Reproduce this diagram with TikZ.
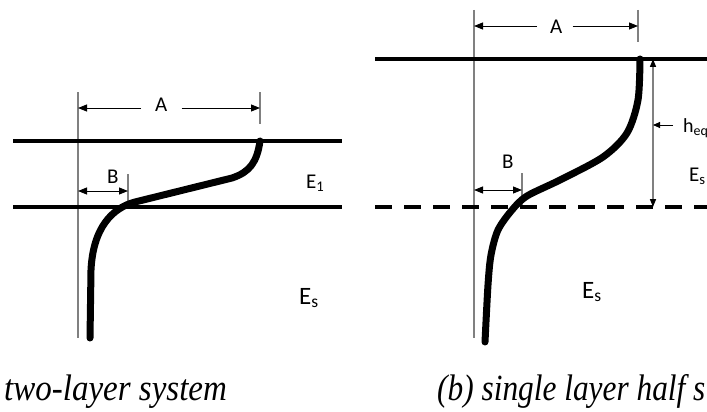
\documentclass[tikz,border=0pt]{standalone}
\usepackage{fontspec}
\setmainfont{Liberation Serif}
\newfontfamily\labelfont{Carlito}
\usetikzlibrary{arrows.meta}

\begin{document}
\begin{tikzpicture}[x=1pt,y=-1pt,>={Triangle[length=9pt,width=7pt]},
  layerline/.style={line width=3.5pt},
  guide/.style={line width=1.5pt,black!50},
  dim/.style={->,line width=0.9pt},
  profile/.style={line width=7pt,line cap=round,line join=round},
  lbl/.style={font=\labelfont\fontsize{21}{22}\selectfont,inner sep=0pt,anchor=base west},
  caption/.style={font=\itshape\fontsize{33}{36}\selectfont,inner sep=0pt,anchor=base west}]
\useasboundingbox (0,0) rectangle (707,412);
% (a) two-layer system
\coordinate (aG1) at (78,92);
\coordinate (aG2) at (78,338);
\coordinate (aT1) at (260,92);
\coordinate (aT2) at (260,124);
\coordinate (aL1) at (13,141);
\coordinate (aL2) at (342,141);
\coordinate (aM1) at (13,207);
\coordinate (aM2) at (342,207);
\coordinate (aB1) at (128,174);
\coordinate (aB2) at (128,207);
\draw[guide] (aG1) -- (aG2);
\draw[guide] (aT1) -- (aT2);
\draw[guide] (aB1) -- (aB2);
\draw[layerline] (aL1) -- (aL2);
\draw[layerline] (aM1) -- (aM2);
\node[lbl] (aA) at (155,111) {A};
\draw[dim] ([xshift=-14pt]aA.base west |- 0,108) -- (aG1 |- 0,108);
\draw[dim] ([xshift=14pt]aA.base east |- 0,108) -- (aT1 |- 0,108);
\draw[<->,line width=0.9pt] (aG1 |- 0,191) -- (aB1 |- 0,191);
\node[lbl] (aB) at (107,183) {B};
\node[lbl] (aE1) at (306,188) {E\textsubscript{1}};
\node[lbl,font=\labelfont\fontsize{25}{26}\selectfont] (aEs) at (299,304) {E\textsubscript{s}};
\draw[profile] (260,141) .. controls (257,162) and (250,172) .. (232,178) -- (135,202)
  .. controls (112,208) and (93,228) .. (91,270) -- (90,338);
\node[caption] (capa) at (4,400) {\scalebox{1}[1.12]{two-layer system}};
% (b) single layer half space
\coordinate (bG1) at (474,10);
\coordinate (bG2) at (474,338);
\coordinate (bT1) at (638,10);
\coordinate (bT2) at (638,42);
\coordinate (bL1) at (375,59);
\coordinate (bL2) at (707,59);
\coordinate (bM1) at (375,207);
\coordinate (bM2) at (707,207);
\coordinate (bB1) at (522,173);
\coordinate (bB2) at (522,207);
\coordinate (bH1) at (653,59);
\coordinate (bH2) at (653,207);
\draw[guide] (bG1) -- (bG2);
\draw[guide] (bT1) -- (bT2);
\draw[guide] (bB1) -- (bB2);
\draw[layerline] (bL1) -- (bL2);
\draw[layerline,dash pattern=on 17pt off 12pt] (bM1) -- (bM2);
\draw[guide,{Triangle[length=8pt,width=6pt,color=black]}-{Triangle[length=8pt,width=6pt,color=black]}] (bH1) -- (bH2);
\node[lbl] (bA) at (550,34) {A};
\draw[dim] ([xshift=-13pt]bA.base west |- 0,26) -- (bG1 |- 0,26);
\draw[dim] ([xshift=10pt]bA.base east |- 0,26) -- (bT1 |- 0,26);
\draw[<->,line width=0.9pt] (bG1 |- 0,190) -- (bB1 |- 0,190);
\node[lbl] (bB) at (502,168) {B};
\node[lbl,font=\labelfont\fontsize{20}{21}\selectfont] (bheq) at (683,132) {h\textsubscript{eq}};
\draw[->,line width=0.9pt,>={Triangle[length=7pt,width=6pt]}] ([xshift=-10pt]bheq.base west |- 0,125) -- (bH1 |- 0,125);
\node[lbl] (bEs1) at (689,181) {E\textsubscript{s}};
\node[lbl,font=\labelfont\fontsize{25}{26}\selectfont] (bEs2) at (582,298) {E\textsubscript{s}};
\draw[profile] plot[smooth,tension=0.5] coordinates {(640,59) (638,100) (627,133) (603,157) (560,180) (527,196) (512,210) (498,230) (491,255) (488,285) (485,342)};
\node[caption] (capb) at (437,400) {\scalebox{0.95}[1.12]{(b) single layer half s}};
\end{tikzpicture}
\end{document}
